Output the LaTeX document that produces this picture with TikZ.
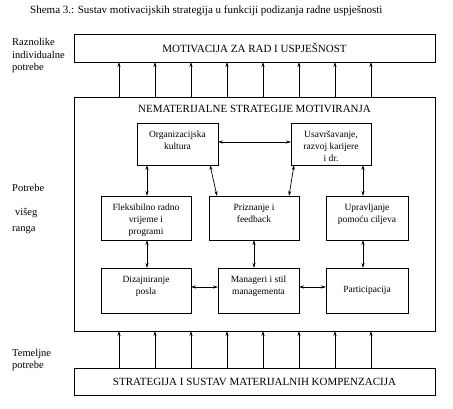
\documentclass[tikz,border=0pt]{standalone}
\usepackage{fontspec}
\setmainfont{Liberation Serif}
\usetikzlibrary{arrows.meta,calc}
\begin{document}
\begin{tikzpicture}[x=1pt,y=-1pt,
  box/.style={draw,line width=0.8pt,inner sep=0pt,outer sep=0pt},
  txt/.style={font=\fontsize{9.5}{12}\selectfont,align=center,inner sep=0pt,anchor=north},
  bigtxt/.style={font=\fontsize{11}{13}\selectfont},
  side/.style={font=\fontsize{10.5}{12.5}\selectfont,anchor=base west,inner sep=0pt},
  arr1/.style={-{Stealth[length=5pt,width=3pt]},line width=0.7pt},
  arr2/.style={{Stealth[length=5pt,width=3pt]}-{Stealth[length=5pt,width=3pt]},line width=0.7pt}]
\useasboundingbox (0,0) rectangle (453,409);
\node[anchor=base west,inner sep=0pt,font=\fontsize{11}{13}\selectfont] (title) at (30,14) {Shema 3.: Sustav motivacijskih strategija u funkciji podizanja radne uspješnosti};
% main boxes
\node[box,minimum width=361pt,minimum height=28pt,bigtxt] (top) at (254.5,48) {MOTIVACIJA ZA RAD I USPJEŠNOST};
\node[box,minimum width=361pt,minimum height=234pt] (mid) at (254.5,214) {};
\node[bigtxt,anchor=base,inner sep=0pt] (midT) at (254.5,113) {NEMATERIJALNE STRATEGIJE MOTIVIRANJA};
\node[box,minimum width=361pt,minimum height=27pt,bigtxt] (bot) at (254.5,381.5) {STRATEGIJA I SUSTAV MATERIJALNIH KOMPENZACIJA};
% vertical arrows between main boxes
\foreach \x [count=\i] in {119,155,...,371} {
  \coordinate (c\i) at (\x,0);
  \draw[arr1] (mid.north -| c\i) -- (top.south -| c\i);
  \draw[arr1] (bot.north -| c\i) -- (mid.south -| c\i);
}
% inner boxes
\node[box,minimum width=81pt,minimum height=42pt] (org) at (177.5,144) {};
\node[txt] (orgT) at ($(org.north)+(0,5.6)$) {\strut Organizacijska\\kultura};
\node[box,minimum width=80pt,minimum height=42pt] (usa) at (331,144) {};
\node[txt] (usaT) at ($(usa.north)+(0,5.6)$) {\strut Usavršavanje,\\razvoj karijere\\i dr.};
\node[box,minimum width=90pt,minimum height=44pt] (flex) at (146,218) {};
\node[txt] (flexT) at ($(flex.north)+(0,5.6)$) {\strut Fleksibilno radno\\vrijeme i\\programi};
\node[box,minimum width=90pt,minimum height=44pt] (priz) at (254,218) {};
\node[txt] (prizT) at ($(priz.north)+(0,5.6)$) {\strut Priznanje i\\feedback};
\node[box,minimum width=82pt,minimum height=44pt] (upr) at (367,218) {};
\node[txt] (uprT) at ($(upr.north)+(0,5.6)$) {\strut Upravljanje\\pomoću ciljeva};
\node[box,minimum width=90pt,minimum height=45pt] (diz) at (146,290.5) {};
\node[txt] (dizT) at ($(diz.north)+(0,5.6)$) {\strut Dizajniranje\\posla};
\node[box,minimum width=81pt,minimum height=45pt] (man) at (258.5,290.5) {};
\node[txt] (manT) at ($(man.north)+(0,5.6)$) {\strut Manageri i stil\\managementa};
\node[box,minimum width=82pt,minimum height=45pt,font=\fontsize{9.5}{12}\selectfont] (par) at (367,290.5) {Participacija};
% inner connectors
\coordinate (v1) at (147,0);
\coordinate (v2) at (363,0);
\coordinate (v3) at (254,0);
\coordinate (d1) at (210,0);
\coordinate (d2) at (217,0);
\coordinate (d3) at (294,0);
\coordinate (d4) at (289,0);
\coordinate (h1) at (0,287);
\draw[arr2] ([yshift=2pt]org.east) -- ([yshift=2pt]usa.west);
\draw[arr2] (org.south -| v1) -- (flex.north -| v1);
\draw[arr2] (org.south -| d1) -- (priz.north -| d2);
\draw[arr2] (usa.south -| d3) -- (priz.north -| d4);
\draw[arr2] (usa.south -| v2) -- (upr.north -| v2);
\draw[arr2] (flex.south -| v1) -- (diz.north -| v1);
\draw[arr2] (priz.south -| v3) -- (man.north -| v3);
\draw[arr2] (upr.south -| v2) -- (par.north -| v2);
\draw[arr2] (diz.east |- h1) -- (man.west |- h1);
\draw[arr2] (man.east |- h1) -- (par.west |- h1);
% side labels
\node[side] (s1) at (12,46) {Raznolike};
\node[side] (s2) at (12,58.5) {individualne};
\node[side] (s3) at (12,71) {potrebe};
\node[side] (s4) at (12,192) {Potrebe};
\node[side] (s5) at (15,215) {višeg};
\node[side] (s6) at (12,232) {ranga};
\node[side] (s7) at (12,356) {Temeljne};
\node[side] (s8) at (12,368.5) {potrebe};
\end{tikzpicture}
\end{document}
